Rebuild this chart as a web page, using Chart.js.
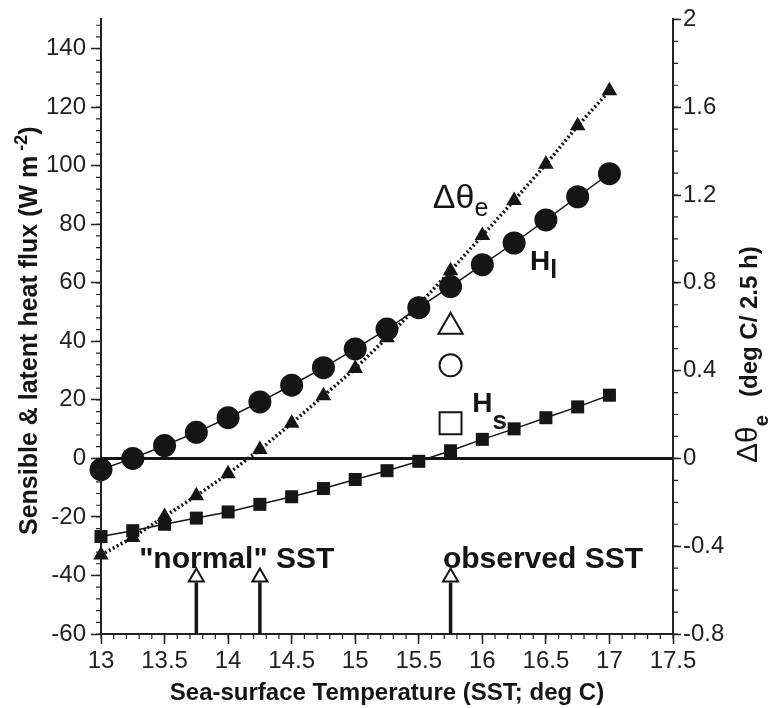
<!DOCTYPE html>
<html>
<head>
<meta charset="utf-8">
<script src="https://cdn.jsdelivr.net/npm/chart.js@4.4.0/dist/chart.umd.min.js"></script>
<style>
	body { margin: 0; background: #fff; }
</style>
</head>
<body>
<canvas id="fluxChart" width="769" height="708"></canvas>
<script>
// values
const sst = [13, 13.25, 13.5, 13.75, 14, 14.25, 14.5, 14.75, 15, 15.25, 15.5, 15.75, 16, 16.25, 16.5, 16.75, 17];
const latentFlux = [-3.8, 0, 4.4, 8.9, 13.9, 19.3, 25, 31, 37.4, 44.2, 51.5, 58.7, 66.2, 73.6, 81.5, 89.4, 97.3];
const sensibleFlux = [-26.7, -24.7, -22.5, -20.4, -18.3, -15.7, -13.1, -10.3, -7.2, -4.2, -1, 2.6, 6.5, 10.1, 13.9, 17.6, 21.6];
const thetaChange = [-0.44, -0.36, -0.265, -0.17, -0.07, 0.04, 0.16, 0.285, 0.41, 0.55, 0.7, 0.855, 1.015, 1.175, 1.34, 1.515, 1.675];

// observed values (open symbols)
const observedSst = 15.75;
const observedLatent = 31.8;
const observedSensible = 12;
const observedTheta = 0.6;

// arrows marking "normal" and observed SST
const arrowSst = [13.75, 14.25, 15.75];
const arrowBottom = -60;
const arrowTop = -42.4;
const arrowHead = -40.6;

const xTicks = [13, 13.5, 14, 14.5, 15, 15.5, 16, 16.5, 17, 17.5];
const leftTicks = [-60, -40, -20, 0, 20, 40, 60, 80, 100, 120, 140];
const rightTicks = [-0.8, -0.4, 0, 0.4, 0.8, 1.2, 1.6, 2];

const FONT = '"Liberation Sans", Arial, sans-serif';
const INK = '#151515';

const pts = (xs, ys) => ys.map((v, i) => ({ x: xs[i], y: v }));
const fmt = v => String(Math.round(v * 10) / 10);

const notes = [
	{ x: 13.3, y: -37.3, parts: [{ t: '"normal" SST', f: 'bold 30px ' + FONT }] },
	{ x: 15.69, y: -37.3, parts: [{ t: 'observed SST', f: 'bold 30px ' + FONT }] },
	{ x: 15.61, y: 85.4, parts: [{ t: 'Δθ', f: '34px ' + FONT }, { t: 'e', f: '25px ' + FONT, dy: 8 }] },
	{ x: 16.375, y: 64.4, parts: [{ t: 'H', f: 'bold 28px ' + FONT }, { t: 'l', f: 'bold 25px ' + FONT, dy: 8 }] },
	{ x: 15.92, y: 15.9, parts: [{ t: 'H', f: 'bold 28px ' + FONT }, { t: 's', f: 'bold 26px ' + FONT, dy: 17 }] },
]

function drawParts(ctx, parts) {
	let cx = 0;
	parts.forEach(p => {
		ctx.font = p.f;
		if (p.at !== undefined) cx = p.at;
		ctx.fillText(p.t, cx, p.dy || 0);
		cx += ctx.measureText(p.t).width;
	});
}

const extras = {
	id: 'extras',
	afterDraw(chart) {
		const { ctx, chartArea: a, scales } = chart;
		ctx.save();
		// minor ticks
		ctx.strokeStyle = '#222';
		ctx.lineWidth = 1.2;
		ctx.beginPath();
		for (let k = 0; k <= 45; k++) {
			const px = scales.x.getPixelForValue(13 + k * 0.1);
			ctx.moveTo(px, a.bottom); ctx.lineTo(px, a.bottom + 5);
		}
		for (let k = 0; k <= 52; k++) {
			const py = scales.y.getPixelForValue(-60 + k * 4);
			ctx.moveTo(a.left, py); ctx.lineTo(a.left - 5, py);
		}
		for (let k = 0; k <= 28; k++) {
			const py = scales.y1.getPixelForValue(-0.8 + k * 0.1);
			ctx.moveTo(a.right, py); ctx.lineTo(a.right + 5, py);
		}
		ctx.stroke();

		// text labels inside the plot
		ctx.fillStyle = INK;
		ctx.textBaseline = 'alphabetic';
		ctx.textAlign = 'left';
		notes.forEach(n => {
			ctx.save();
			ctx.translate(scales.x.getPixelForValue(n.x), scales.y.getPixelForValue(n.y));
			drawParts(ctx, n.parts);
			ctx.restore();
		});

		// left axis title
		ctx.save();
		ctx.translate(37, 535);
		ctx.rotate(-Math.PI / 2);
		drawParts(ctx, [
			{ t: 'Sensible & latent heat flux (W m', f: 'bold 25px ' + FONT },
			{ t: ' -2', f: 'bold 18px ' + FONT, dy: -10 },
			{ t: ')', f: 'bold 25px ' + FONT },
		]);
		ctx.restore();

		// right axis title
		ctx.save();
		ctx.translate(757, 463);
		ctx.rotate(-Math.PI / 2);
		drawParts(ctx, [
			{ t: 'Δθ', f: '30px ' + FONT },
			{ t: 'e', f: 'bold 20px ' + FONT, dy: 11 },
			{ t: '(deg C/ 2.5 h)', f: 'bold 24px ' + FONT, at: 66 },
		]);
		ctx.restore();
		ctx.restore();
	}
}

const datasets = [
	{
		label: 'Hl',
		data: pts(sst, latentFlux),
		showLine: true,
		borderColor: INK,
		borderWidth: 1.5,
		backgroundColor: INK,
		pointStyle: 'circle',
		pointRadius: 11.5,
		pointBorderWidth: 0,
		yAxisID: 'y',
	},
	{
		label: 'dTheta_e',
		data: pts(sst, thetaChange),
		showLine: true,
		borderColor: INK,
		borderWidth: 3.5,
		borderDash: [2, 2.5],
		backgroundColor: INK,
		pointStyle: 'triangle',
		pointRadius: 9,
		pointBorderWidth: 0,
		yAxisID: 'y1',
	},
	{
		label: 'Hs',
		data: pts(sst, sensibleFlux),
		showLine: true,
		borderColor: INK,
		borderWidth: 1.5,
		backgroundColor: INK,
		pointStyle: 'rect',
		pointRadius: 9.2,
		pointBorderWidth: 0,
		yAxisID: 'y',
	},
	{
		label: 'observed Hl',
		data: [{ x: observedSst, y: observedLatent }],
		pointStyle: 'circle',
		pointRadius: 11,
		pointBorderWidth: 2,
		borderColor: INK,
		backgroundColor: '#fff',
		yAxisID: 'y',
	},
	{
		label: 'observed Hs',
		data: [{ x: observedSst, y: observedSensible }],
		pointStyle: 'rect',
		pointRadius: 15.5,
		pointBorderWidth: 2,
		borderColor: INK,
		backgroundColor: '#fff',
		yAxisID: 'y',
	},
	{
		label: 'observed dTheta_e',
		data: [{ x: observedSst, y: observedTheta }],
		pointStyle: 'triangle',
		pointRadius: 14,
		pointBorderWidth: 2,
		borderColor: INK,
		backgroundColor: '#fff',
		yAxisID: 'y1',
	},
	{
		label: 'arrow heads',
		data: arrowSst.map(x => ({ x: x, y: arrowHead })),
		pointStyle: 'triangle',
		pointRadius: 8.7,
		pointBorderWidth: 2,
		borderColor: INK,
		backgroundColor: '#fff',
		yAxisID: 'y',
	},
]

arrowSst.forEach(x => {
	datasets.push({
		label: 'arrow',
		data: [{ x: x, y: arrowBottom }, { x: x, y: arrowTop }],
		showLine: true,
		borderColor: INK,
		borderWidth: 3.5,
		pointRadius: 0,
		yAxisID: 'y',
	})
})

datasets.forEach(d => { d.clip = false; })

const tickFont = { family: FONT, size: 24 };
const fix = (list) => (scale) => { scale.ticks = list.map(v => ({ value: v })); };

new Chart(document.getElementById('fluxChart'), {
	type: 'scatter',
	data: { datasets: datasets },
	options: {
		responsive: false,
		animation: false,
		devicePixelRatio: 1,
		layout: { padding: { top: 16, left: 0, right: 0, bottom: 0 } },
		plugins: {
			legend: { display: false },
			tooltip: { enabled: false },
		},
		scales: {
			x: {
				type: 'linear',
				min: 13,
				max: 17.5,
				afterBuildTicks: fix(xTicks),
				afterFit: s => { s.height = 74; },
				border: { display: true, color: '#222', width: 2 },
				grid: { drawOnChartArea: false, drawTicks: true, tickLength: 10, tickColor: '#222', tickWidth: 1.5 },
				ticks: { font: tickFont, color: '#222', padding: 3, maxRotation: 0, autoSkip: false, callback: fmt },
				title: {
					display: true,
					text: 'Sea-surface Temperature (SST; deg C)',
					font: { family: FONT, size: 24, weight: 'bold' },
					color: INK,
					padding: { top: 0, bottom: 0 },
				},
			},
			y: {
				position: 'left',
				min: -60,
				max: 150,
				afterBuildTicks: fix(leftTicks),
				afterFit: s => { s.width = 101; },
				border: { display: true, color: '#222', width: 2 },
				grid: {
					drawOnChartArea: true,
					drawTicks: true,
					tickLength: 10,
					tickColor: '#222',
					tickWidth: 1.5,
					color: c => (c.tick && c.tick.value === 0 ? INK : 'rgba(0,0,0,0)'),
					lineWidth: c => (c.tick && c.tick.value === 0 ? 3 : 1),
				},
				ticks: { font: tickFont, color: '#222', padding: 5, autoSkip: false, callback: fmt },
			},
			y1: {
				position: 'right',
				min: -0.8,
				max: 2,
				afterBuildTicks: fix(rightTicks),
				afterFit: s => { s.width = 96; },
				border: { display: true, color: '#222', width: 2 },
				grid: { drawOnChartArea: false, drawTicks: true, tickLength: 8, tickColor: '#222', tickWidth: 1.5 },
				ticks: { font: tickFont, color: '#222', padding: 2, autoSkip: false, callback: fmt },
			},
		},
	},
	plugins: [extras],
});
</script>
</body>
</html>
